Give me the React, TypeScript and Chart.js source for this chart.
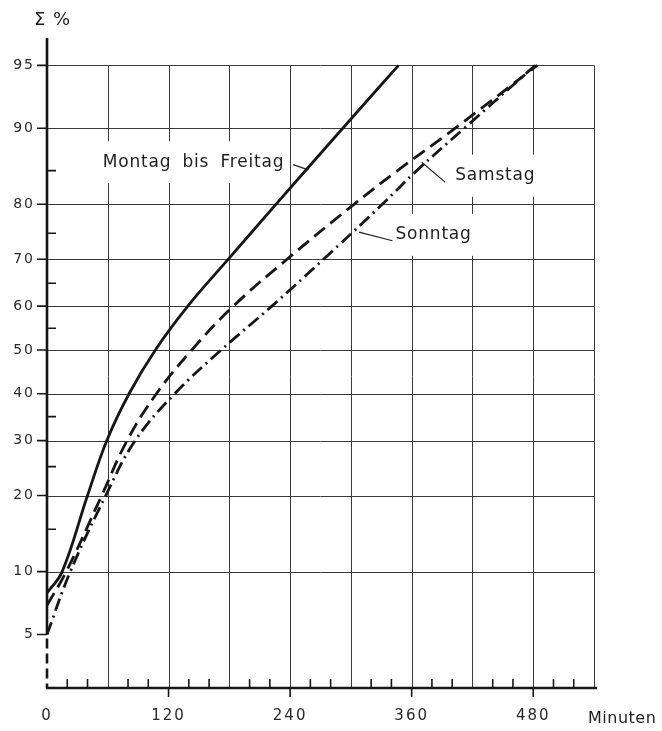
import React, { useEffect, useRef } from "react";
import { Chart, registerables } from "chart.js";

Chart.register(...registerables);

// ---- Data ----
const yTickPercents = [5, 10, 20, 30, 40, 50, 60, 70, 80, 90, 95];
const yGridPercents = [10, 20, 30, 40, 50, 60, 70, 80, 90, 95];
const yMinorPercents = [85, 75, 65, 55, 35, 25, 15];
const yAxisMinPercent = 2.535;
const yAxisMaxPercent = 96.43;

const xTickMinutes = [0, 120, 240, 360, 480];
const xGridMinutes = [60, 120, 180, 240, 300, 360, 420, 480, 540];
const xMinorMinutes = [20, 40, 80, 100, 140, 160, 200, 220, 260, 280, 320, 340, 380, 400, 440, 460, 500, 520];
const xAxisMax = 540;

const monFriPercent = [8, 10, 20, 30, 40, 50, 60, 70, 80, 90, 95];
const monFriMinutes = [0, 15, 40, 59, 81, 107, 139, 179, 226, 292, 347];

const samstagPercent = [7, 10, 20, 30, 40, 50, 60, 70, 80, 85, 90, 95];
const samstagMinutes = [0, 19, 54, 79, 108, 143, 184, 237, 303, 346, 403, 484];

const sonntagPercent = [5, 10, 20, 30, 40, 50, 60, 70, 80, 85, 90, 95];
const sonntagMinutes = [0, 23, 58, 87, 126, 172, 222, 273, 331, 365, 412, 482];

const labels = [
  { text: "Montag bis Freitag", minute: 55, percent: 86.1, leader: [[243, 85.8], [258, 85.1]] },
  { text: "Samstag", minute: 403, percent: 84.3, leader: [[393, 83.4], [370, 86.1]] },
  { text: "Sonntag", minute: 344, percent: 74.7, leader: [[341, 73.6], [308, 75.2]] },
];

// inverse normal CDF (probability paper scale)
function probit(pct: number): number {
  const p = pct / 100;
  const a = [-3.969683028665376e1, 2.209460984245205e2, -2.759285104469687e2, 1.38357751867269e2, -3.066479806614716e1, 2.506628277459239];
  const b = [-5.447609879822406e1, 1.615858368580409e2, -1.556989798598866e2, 6.680131188771972e1, -1.328068155288572e1];
  const c = [-7.784894002430293e-3, -3.223964580411365e-1, -2.400758277161838, -2.549732539343734, 4.374664141464968, 2.938163982698783];
  const d = [7.784695709041462e-3, 3.224671290700398e-1, 2.445134137142996, 3.754408661907416];
  const plow = 0.02425;
  const phigh = 1 - plow;
  let q: number, r: number;
  if (p < plow) {
    q = Math.sqrt(-2 * Math.log(p));
    return (((((c[0] * q + c[1]) * q + c[2]) * q + c[3]) * q + c[4]) * q + c[5]) / ((((d[0] * q + d[1]) * q + d[2]) * q + d[3]) * q + 1);
  }
  if (p <= phigh) {
    q = p - 0.5;
    r = q * q;
    return ((((((a[0] * r + a[1]) * r + a[2]) * r + a[3]) * r + a[4]) * r + a[5]) * q) / (((((b[0] * r + b[1]) * r + b[2]) * r + b[3]) * r + b[4]) * r + 1);
  }
  q = Math.sqrt(-2 * Math.log(1 - p));
  return -(((((c[0] * q + c[1]) * q + c[2]) * q + c[3]) * q + c[4]) * q + c[5]) / ((((d[0] * q + d[1]) * q + d[2]) * q + d[3]) * q + 1);
}

const toPoints = (mins: number[], pcts: number[]) => mins.map((m, i) => ({ x: m, y: probit(pcts[i]) }));

const INK = "#161616";
const GRID = "#3a3a3a";
const FONT = "'DejaVu Sans', sans-serif";

const paperPlugin = {
  id: "paper",
  beforeDraw(chart: any) {
    const ctx = chart.ctx;
    ctx.save();
    ctx.fillStyle = "#ffffff";
    ctx.fillRect(0, 0, chart.width, chart.height);
    ctx.restore();
    ctx.letterSpacing = "2px";
  },
  beforeDatasetsDraw(chart: any) {
    const ctx = chart.ctx;
    ctx.letterSpacing = "0px";
    const xs = chart.scales.x;
    const ys = chart.scales.y;
    const X = (m: number) => xs.getPixelForValue(m);
    const Y = (p: number) => ys.getPixelForValue(probit(p));
    const left = X(0);
    const right = X(xAxisMax);
    const top = ys.top;
    const bottom = ys.bottom;
    const y95 = Y(95);

    ctx.save();
    // grid
    ctx.strokeStyle = GRID;
    ctx.lineWidth = 1;
    ctx.beginPath();
    yGridPercents.forEach((p) => {
      const y = Math.round(Y(p)) + 0.5;
      ctx.moveTo(left, y);
      ctx.lineTo(right, y);
    });
    xGridMinutes.forEach((m) => {
      const x = Math.round(X(m)) + 0.5;
      ctx.moveTo(x, y95);
      ctx.lineTo(x, bottom);
    });
    ctx.stroke();

    // axes
    ctx.strokeStyle = INK;
    ctx.lineWidth = 2.6;
    ctx.beginPath();
    ctx.moveTo(left, top);
    ctx.lineTo(left, Y(5));
    ctx.stroke();
    ctx.setLineDash([10, 5]);
    ctx.beginPath();
    ctx.moveTo(left, Y(5) + 4);
    ctx.lineTo(left, bottom);
    ctx.stroke();
    ctx.setLineDash([]);
    ctx.beginPath();
    ctx.moveTo(left - 1, bottom);
    ctx.lineTo(right + 3, bottom);
    ctx.stroke();

    // y ticks
    ctx.lineWidth = 1.6;
    ctx.beginPath();
    yTickPercents.forEach((p) => {
      const y = Y(p);
      ctx.moveTo(left - 10, y);
      ctx.lineTo(left, y);
    });
    yMinorPercents.forEach((p) => {
      const y = Y(p);
      ctx.moveTo(left, y);
      ctx.lineTo(left + 9, y);
    });
    // x ticks
    xMinorMinutes.forEach((m) => {
      const x = X(m);
      ctx.moveTo(x, bottom);
      ctx.lineTo(x, bottom - 9);
    });
    xTickMinutes.slice(1).forEach((m) => {
      const x = X(m);
      ctx.moveTo(x, bottom);
      ctx.lineTo(x, bottom + 9);
    });
    ctx.stroke();

    // labels with white boxes
    ctx.font = `17px ${FONT}`;
    ctx.letterSpacing = "0.8px";
    ctx.wordSpacing = "5px";
    ctx.textBaseline = "middle";
    ctx.textAlign = "left";
    labels.forEach((l) => {
      const x = X(l.minute);
      const y = Y(l.percent);
      const w = ctx.measureText(l.text).width;
      ctx.fillStyle = "#ffffff";
      ctx.fillRect(x - 5, y - 21, w + 8, 42);
      ctx.fillStyle = "#1e1e1e";
      ctx.fillText(l.text, x, y);
      ctx.strokeStyle = "#222";
      ctx.lineWidth = 1.2;
      ctx.beginPath();
      ctx.moveTo(X(l.leader[0][0]), Y(l.leader[0][1]));
      ctx.lineTo(X(l.leader[1][0]), Y(l.leader[1][1]));
      ctx.stroke();
    });
    ctx.wordSpacing = "0px";

    // axis titles
    ctx.fillStyle = "#1e1e1e";
    ctx.font = `18px ${FONT}`;
    ctx.letterSpacing = "1px";
    ctx.fillText("Σ %", 34, 20);
    ctx.font = `16px ${FONT}`;
    ctx.letterSpacing = "0.5px";
    ctx.fillText("Minuten", 588, 719);
    ctx.restore();
    ctx.letterSpacing = "0px";
  },
};

export default function App() {
  const ref = useRef<HTMLCanvasElement | null>(null);
  useEffect(() => {
    if (!ref.current) return;
    const common = {
      pointRadius: 0,
      borderColor: INK,
      borderWidth: 2.8,
      fill: false,
      tension: 0.4,
    };
    const chart = new Chart(ref.current, {
      type: "line",
      data: {
        datasets: [
          { ...common, label: "Montag bis Freitag", data: toPoints(monFriMinutes, monFriPercent) },
          { ...common, label: "Samstag", data: toPoints(samstagMinutes, samstagPercent), borderDash: [14, 7] },
          { ...common, label: "Sonntag", data: toPoints(sonntagMinutes, sonntagPercent), borderDash: [13, 5, 2, 5] },
        ],
      },
      options: {
        animation: false,
        responsive: false,
        layout: { padding: { top: 38, right: 68, left: 0, bottom: 0 } },
        plugins: { legend: { display: false }, tooltip: { enabled: false } },
        scales: {
          x: {
            type: "linear",
            min: 0,
            max: xAxisMax,
            grid: { display: false, drawTicks: false },
            border: { display: false },
            ticks: {
              padding: 19,
              font: { family: FONT, size: 15 },
              color: "#2a2a2a",
              autoSkip: false,
              maxRotation: 0,
              callback: (v: any) => String(v),
            },
            afterBuildTicks: (s: any) => {
              s.ticks = xTickMinutes.map((v) => ({ value: v }));
            },
            afterFit: (s: any) => {
              s.height = 43;
            },
          },
          y: {
            type: "linear",
            min: probit(yAxisMinPercent),
            max: probit(yAxisMaxPercent),
            grid: { display: false, drawTicks: false },
            border: { display: false },
            ticks: {
              padding: 12,
              font: { family: FONT, size: 14 },
              color: "#2a2a2a",
              autoSkip: false,
              callback: (_v: any, i: number) => String(yTickPercents[i]),
            },
            afterBuildTicks: (s: any) => {
              s.ticks = yTickPercents.map((p) => ({ value: probit(p) }));
            },
            afterFit: (s: any) => {
              s.width = 47;
            },
          },
        },
      },
      plugins: [paperPlugin],
    });
    return () => chart.destroy();
  }, []);
  return (
    <div style={{ position: "absolute", left: 0, top: 0, width: 662, height: 731, background: "#fff" }}>
      <canvas ref={ref} width={662} height={731} style={{ display: "block" }} />
    </div>
  );
}
